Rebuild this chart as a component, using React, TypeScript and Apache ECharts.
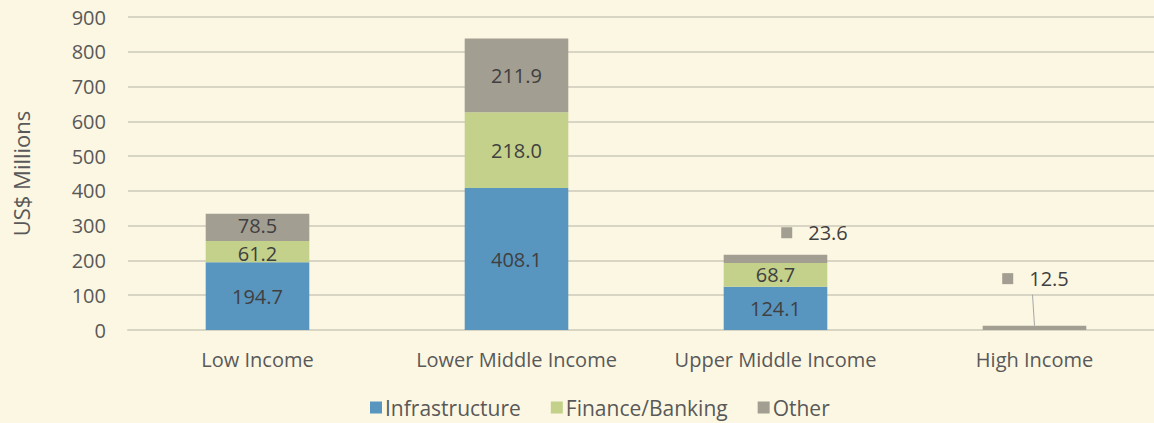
import React, { useEffect, useRef } from "react";
import * as echarts from "echarts";

const categories = ["Low Income", "Lower Middle Income", "Upper Middle Income", "High Income"];
const infrastructure = [194.7, 408.1, 124.1, 0];
const financeBanking = [61.2, 218.0, 68.7, 0];
const other = [78.5, 211.9, 23.6, 12.5];
const yTicks = [0, 100, 200, 300, 400, 500, 600, 700, 800, 900];

const FONT = "'Open Sans', 'Noto Sans', sans-serif";
const BLUE = "#5895BF";
const GREEN = "#C3D18B";
const GRAY = "#A39E92";
const FS = 20;

export default function App() {
  const ref = useRef<HTMLDivElement>(null);
  useEffect(() => {
    const chart = echarts.init(ref.current!, null, { renderer: "svg" });
    const insideLabel = {
      show: true,
      position: "inside",
      color: "#404040",
      fontFamily: FONT,
      fontSize: 20,
      formatter: (p: any) => (p.value ? Number(p.value).toFixed(1) : ""),
    };
    const outsideRich = {
      sq: { width: 11, height: 11, backgroundColor: GRAY },
      t: { color: "#404040", fontFamily: FONT, fontSize: FS, padding: [0, 0, 0, 16] },
    };
    const financeData = financeBanking.map((v, i) =>
      i === 0 ? { value: v, label: { offset: [0, 2] } } : v
    );
    const otherData = other.map((v, i) => {
      if (i === 0) {
        return { value: v, label: { offset: [0, -2] } };
      }
      if (i === 2) {
        return {
          value: v,
          label: {
            show: true,
            position: "top",
            offset: [39, -7],
            formatter: (p: any) => "{sq|}{t|" + Number(p.value).toFixed(1) + "}",
            rich: outsideRich,
          },
        };
      }
      if (i === 3) {
        return {
          value: v,
          label: {
            show: true,
            position: "top",
            offset: [1, -32],
            formatter: (p: any) => "{sq|}{t|" + Number(p.value).toFixed(1) + "}",
            rich: outsideRich,
          },
        };
      }
      return v;
    });
    chart.setOption({
      animation: false,
      backgroundColor: "#FCF7E3",
      textStyle: { fontFamily: FONT },
      grid: { left: 128, right: 0, top: 17, height: 313, containLabel: false },
      legend: {
        bottom: 0,
        left: 365,
        icon: "rect",
        itemWidth: 12,
        itemHeight: 12,
        itemGap: 30,
        textStyle: { color: "#595959", fontSize: 21, fontFamily: FONT, padding: [0, 0, 0, -2] },
        data: ["Infrastructure", "Finance/Banking", "Other"],
      },
      xAxis: {
        type: "category",
        data: categories,
        axisLine: { show: true, lineStyle: { color: "#D9D5C5", width: 2 } },
        axisTick: { show: false },
        axisLabel: { color: "#595959", fontSize: FS, fontFamily: FONT, margin: 19, interval: 0 },
      },
      yAxis: {
        type: "value",
        min: 0,
        max: 900,
        interval: 100,
        name: "US$ Millions",
        nameLocation: "middle",
        nameGap: 96,
        nameTextStyle: { color: "#595959", fontSize: 22, fontFamily: FONT },
        axisLine: { show: false },
        axisTick: { show: false },
        axisLabel: {
          color: "#595959",
          fontSize: FS,
          fontFamily: FONT,
          margin: 22,
          formatter: (v: number) => (yTicks.includes(v) ? String(v) : ""),
        },
        splitLine: { lineStyle: { color: "#D9D5C5", width: 2 } },
      },
      series: [
        {
          name: "Infrastructure",
          type: "bar",
          stack: "total",
          barWidth: "40%",
          itemStyle: { color: BLUE },
          label: insideLabel,
          data: infrastructure,
        },
        {
          name: "Finance/Banking",
          type: "bar",
          stack: "total",
          barWidth: "40%",
          itemStyle: { color: GREEN },
          label: insideLabel,
          data: financeData,
        },
        {
          name: "Other",
          type: "bar",
          stack: "total",
          barWidth: "40%",
          itemStyle: { color: GRAY },
          label: insideLabel,
          data: otherData,
        },
      ],
    });
    // leader line for the High Income "Other" label, derived from the axis scale
    const idx = 3;
    const top = infrastructure[idx] + financeBanking[idx] + other[idx];
    const p = chart.convertToPixel({ gridIndex: 0 }, [idx, top]) as number[];
    if (p) {
      chart.setOption({
        graphic: [
          {
            type: "line",
            shape: { x1: p[0] - 2, y1: p[1] - 31, x2: p[0], y2: p[1] },
            style: { stroke: "#A6A6A6", lineWidth: 1 },
            silent: true,
          },
        ],
      });
    }
    return () => chart.dispose();
  }, []);
  return (
    <div style={{ width: 1154, height: 423, position: "absolute", left: 0, top: 0, overflow: "hidden" }}>
      <div ref={ref} style={{ width: 1164, height: 423 }} />
    </div>
  );
}
